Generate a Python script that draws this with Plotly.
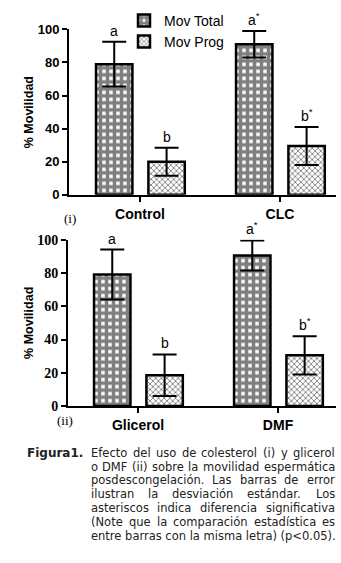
import plotly.graph_objects as go

# ---------------- data ----------------
cats_top = ["Control", "CLC"]
total_top = [79, 91]
total_top_sd = [13.5, 8]
prog_top = [20, 29.5]
prog_top_sd = [8.5, 11.5]
letters_total_top = ["a", "a<sup>*</sup>"]
letters_prog_top = ["b", "b<sup>*</sup>"]

cats_bot = ["Glicerol", "DMF"]
total_bot = [79, 90.5]
total_bot_sd = [15, 9]
prog_bot = [18.5, 30.5]
prog_bot_sd = [12.5, 11.5]
letters_total_bot = ["a", "a<sup>*</sup>"]
letters_prog_bot = ["b", "b<sup>*</sup>"]

y_ticks = [0, 20, 40, 60, 80, 100]
series_names = ["Mov Total", "Mov Prog"]

caption_head = "Figura1."
caption_lines = [
    "Efecto del uso de colesterol (i) y glicerol",
    "o DMF (ii) sobre la movilidad espermática",
    "posdescongelación. Las barras de error",
    "ilustran la desviación estándar. Los",
    "asteriscos indica diferencia significativa",
    "(Note que la comparación estadística es",
    "entre barras con la misma letra) (p<0.05).",
]

# ---------------- styling ----------------
W, H = 341, 563
SANS = "Liberation Sans, Arial, sans-serif"
SERIF = "Liberation Serif, Times New Roman, serif"
CAP = "DejaVu Sans, Verdana, sans-serif"

BW = 0.26
OFF_T = -0.314
OFF_P = 0.06

pat_total = dict(shape="+", fgcolor="black", bgcolor="white", size=7, solidity=0.75)
pat_prog = dict(shape="x", fgcolor="black", bgcolor="white", size=4, solidity=0.4)

fig = go.Figure()

def add_bars(cats, vals, sds, pattern, name, off, xa, ya, show):
    fig.add_trace(go.Bar(
        x=cats, y=vals, name=name, offset=off, width=BW,
        marker=dict(color="white", pattern=pattern, line=dict(color="black", width=2.5)),
        error_y=dict(type="data", array=sds, visible=True, color="black",
                     thickness=2, width=12),
        xaxis=xa, yaxis=ya, showlegend=show,
    ))

add_bars(cats_top, total_top, total_top_sd, pat_total, series_names[0], OFF_T, "x", "y", True)
add_bars(cats_top, prog_top, prog_top_sd, pat_prog, series_names[1], OFF_P, "x", "y", True)
add_bars(cats_bot, total_bot, total_bot_sd, pat_total, series_names[0], OFF_T, "x2", "y2", False)
add_bars(cats_bot, prog_bot, prog_bot_sd, pat_prog, series_names[1], OFF_P, "x2", "y2", False)

annotations = []

def add_letters(vals, sds, letters, off, xref, yref):
    for i, (v, s, t) in enumerate(zip(vals, sds, letters)):
        annotations.append(dict(
            x=i + off + BW / 2, y=v + s, xref=xref, yref=yref, text=t,
            showarrow=False, yanchor="bottom", yshift=1,
            font=dict(family=SANS, size=14, color="black")))

add_letters(total_top, total_top_sd, letters_total_top, OFF_T, "x", "y")
add_letters(prog_top, prog_top_sd, letters_prog_top, OFF_P, "x", "y")
add_letters(total_bot, total_bot_sd, letters_total_bot, OFF_T, "x2", "y2")
add_letters(prog_bot, prog_bot_sd, letters_prog_bot, OFF_P, "x2", "y2")

# panel labels
annotations.append(dict(x=62 / W, y=1 - 217 / H, xref="paper", yref="paper", text="(i)",
                        showarrow=False, font=dict(family=SERIF, size=13, color="black")))
annotations.append(dict(x=55 / W, y=1 - 435 / H, xref="paper", yref="paper", text="(ii)",
                        showarrow=False, font=dict(family=SERIF, size=13, color="black")))

# caption, justified by word widths
WID = {' ': 318, 'a': 613, 'b': 635, 'c': 550, 'd': 635, 'e': 615, 'f': 352, 'g': 635,
       'h': 634, 'i': 278, 'j': 278, 'k': 579, 'l': 278, 'm': 974, 'n': 634, 'o': 612,
       'p': 635, 'q': 635, 'r': 411, 's': 521, 't': 392, 'u': 634, 'v': 592, 'w': 818,
       'x': 592, 'y': 592, 'z': 525, 'A': 684, 'C': 698, 'D': 770, 'E': 632, 'F': 575,
       'L': 557, 'M': 863, 'N': 748, 'T': 611, '(': 390, ')': 390, '.': 318, '<': 838,
       '0': 636, '5': 636, 'á': 613, 'ó': 612, 'í': 278, 'é': 615}
CS = 11.5
CX0, CX1 = 89, 333
CY0, CDY = 458, 14.2
CCOL = "#222222"

def wwidth(w):
    return sum(WID.get(ch, 600) for ch in w) * CS / 1000.0

annotations.append(dict(x=25 / W, y=1 - CY0 / H, xref="paper", yref="paper",
                        text="<b>" + caption_head + "</b>", showarrow=False,
                        xanchor="left", yanchor="middle",
                        font=dict(family=CAP, size=12, color=CCOL)))
for li, line in enumerate(caption_lines):
    yy = 1 - (CY0 + li * CDY) / H
    if li == len(caption_lines) - 1:
        annotations.append(dict(x=CX0 / W, y=yy, xref="paper", yref="paper", text=line,
                                showarrow=False, xanchor="left", yanchor="middle",
                                font=dict(family=CAP, size=CS, color=CCOL)))
        continue
    words = line.split(" ")
    widths = [wwidth(w) for w in words]
    gap = (CX1 - CX0 - sum(widths)) / (len(words) - 1)
    xx = CX0
    for w, wd in zip(words, widths):
        annotations.append(dict(x=xx / W, y=yy, xref="paper", yref="paper", text=w,
                                showarrow=False, xanchor="left", yanchor="middle",
                                font=dict(family=CAP, size=CS, color=CCOL)))
        xx += wd + gap

axis_common = dict(showline=True, linecolor="black", linewidth=2, ticks="outside",
                   ticklen=5, tickwidth=2, tickcolor="black", showgrid=False,
                   zeroline=False)

fig.update_layout(
    width=W, height=H,
    margin=dict(l=0, r=0, t=0, b=0),
    paper_bgcolor="white", plot_bgcolor="white",
    barmode="overlay",
    xaxis=dict(domain=[69 / W, 336 / W], range=[-0.507, 1.4], anchor="y",
               tickfont=dict(family=SANS, size=14, color="black", weight="bold"),
               **axis_common),
    yaxis=dict(domain=[1 - 193 / H, 1 - 23 / H], range=[0, 100], anchor="x",
               tickvals=y_ticks,
               tickfont=dict(family=SANS, size=13, color="black", weight="bold"),
               title=dict(text="% Movilidad", standoff=1,
                          font=dict(family=SANS, size=12.5, color="black", weight="bold")),
               **axis_common),
    xaxis2=dict(domain=[68 / W, 336 / W], range=[-0.5, 1.414], anchor="y2",
                tickfont=dict(family=SANS, size=14, color="black", weight="bold"),
                **axis_common),
    yaxis2=dict(domain=[1 - 410 / H, 1 - 239 / H], range=[0, 100], anchor="x2",
                tickvals=y_ticks,
                tickfont=dict(family=SERIF, size=14, color="black", weight="bold"),
                title=dict(text="% Movilidad", standoff=1,
                           font=dict(family=SANS, size=12.5, color="black", weight="bold")),
                **axis_common),
    legend=dict(x=124 / W, y=1.004, xanchor="left", yanchor="top",
                bgcolor="rgba(0,0,0,0)", tracegroupgap=0,
                font=dict(family=SANS, size=14, color="black")),
    annotations=annotations,
)

fig.write_html("out.html", config={"displayModeBar": False},
               post_script="document.body.style.margin='0';document.body.style.overflow='hidden';")
